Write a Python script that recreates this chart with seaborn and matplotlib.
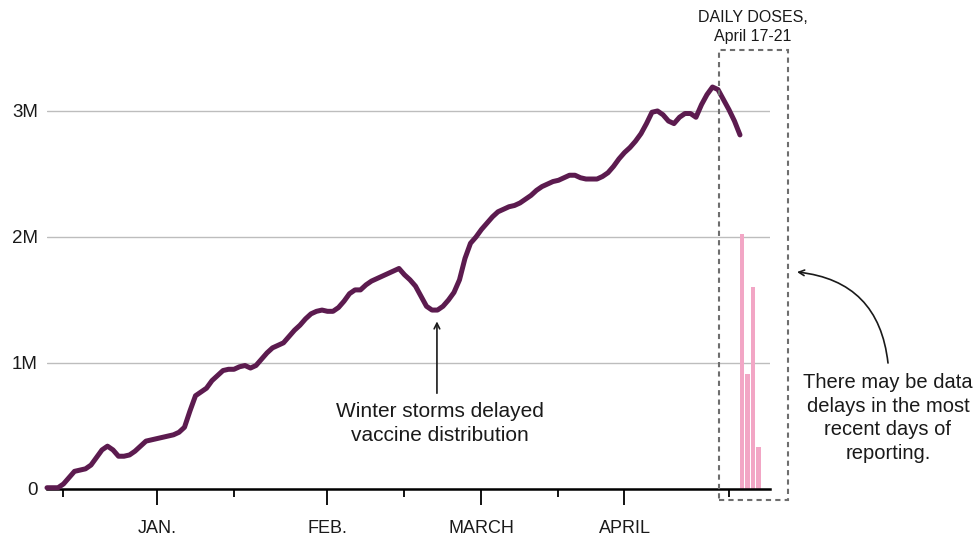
import numpy as np
import pandas as pd
import matplotlib
matplotlib.use("Agg")
import matplotlib.pyplot as plt
import matplotlib.dates as mdates
from matplotlib.patches import Rectangle
import seaborn as sns

# 7-day average of doses (millions), one value per day from Dec 12
START = "2020-12-12"
avg_doses_m = [
    0.01, 0.01, 0.01, 0.04, 0.09, 0.14, 0.15, 0.16, 0.19, 0.25,   # Dec 12-21
    0.31, 0.34, 0.31, 0.26, 0.26, 0.27, 0.30, 0.34, 0.38, 0.39,   # Dec 22-31
    0.40, 0.41, 0.42, 0.43, 0.45, 0.49, 0.62, 0.74, 0.77, 0.80,   # Jan 1-10
    0.86, 0.90, 0.94, 0.95, 0.95, 0.97, 0.98, 0.96, 0.98, 1.03,   # Jan 11-20
    1.08, 1.12, 1.14, 1.16, 1.21, 1.26, 1.30, 1.35, 1.39, 1.41,   # Jan 21-30
    1.42, 1.41, 1.41, 1.44, 1.49, 1.55, 1.58, 1.58, 1.62, 1.65,   # Jan 31-Feb 9
    1.67, 1.69, 1.71, 1.73, 1.75, 1.70, 1.66, 1.61, 1.53, 1.45,   # Feb 10-19
    1.42, 1.42, 1.45, 1.50, 1.56, 1.66, 1.83, 1.95, 2.00, 2.06,   # Feb 20-Mar 1
    2.11, 2.16, 2.20, 2.22, 2.24, 2.25, 2.27, 2.30, 2.33, 2.37,   # Mar 2-11
    2.40, 2.42, 2.44, 2.45, 2.47, 2.49, 2.49, 2.47, 2.46, 2.46,   # Mar 12-21
    2.46, 2.48, 2.51, 2.56, 2.62, 2.67, 2.71, 2.76, 2.82, 2.90,   # Mar 22-31
    2.99, 3.00, 2.97, 2.92, 2.90, 2.95, 2.98, 2.98, 2.95, 3.05,   # Apr 1-10
    3.13, 3.19, 3.17, 3.09, 3.01, 2.92, 2.81,                     # Apr 11-17
]

# daily doses (millions), April 17-21
bar_dates = ["2021-04-17", "2021-04-18", "2021-04-19", "2021-04-20", "2021-04-21"]
bar_doses_m = [2.02, 0.91, 1.60, 0.33, 0.0]

month_ticks = ["2021-01-01", "2021-02-01", "2021-03-01", "2021-03-27"]
month_labels = ["JAN.", "FEB.", "MARCH", "APRIL"]
minor_ticks = ["2020-12-15", "2021-01-15", "2021-02-15", "2021-03-15", "2021-04-15"]
y_ticks = [0, 1, 2, 3]
y_labels = ["0", "1M", "2M", "3M"]

LINE_C = "#5c1b4f"
BAR_C = "#f2a6c5"
TEXT_C = "#1a1a1a"

sns.set_style("white")
plt.rcParams["font.family"] = ["Liberation Sans", "DejaVu Sans"]

df = pd.DataFrame({
    "date": pd.date_range(START, periods=len(avg_doses_m), freq="D"),
    "doses": avg_doses_m,
})

fig = plt.figure(figsize=(9.75, 5.37), dpi=100)
ax = fig.add_axes([0.0482, 0.0894, 0.7415, 0.7978])

ax.bar(pd.to_datetime(bar_dates), bar_doses_m, width=0.8, align="edge",
       color=BAR_C, linewidth=0, edgecolor="none", zorder=2)
sns.lineplot(data=df, x="date", y="doses", ax=ax, color=LINE_C,
             linewidth=3.6, clip_on=False, zorder=4)

jan1 = pd.Timestamp("2021-01-01")
ax.set_xlim(pd.Timestamp(START), jan1 + pd.Timedelta(days=111.45))
ax.set_ylim(0, 3.4)

# axes styling
for s in ["top", "right", "left"]:
    ax.spines[s].set_visible(False)
ax.spines["bottom"].set_color("black")
ax.spines["bottom"].set_linewidth(1.8)
ax.spines["bottom"].set_zorder(3)
ax.set_axisbelow(True)
ax.yaxis.grid(True, color="#bdbdbd", linewidth=1.0)
ax.xaxis.grid(False)

ax.set_yticks(y_ticks)
ax.set_yticklabels(y_labels, fontsize=13.5, color=TEXT_C)
ax.tick_params(axis="y", length=0, pad=6.5)

ax.set_xticks(pd.to_datetime(month_ticks))
ax.set_xticklabels(month_labels, fontsize=13, color=TEXT_C)
ax.set_xticks(pd.to_datetime(minor_ticks), minor=True)
ax.tick_params(axis="x", which="major", length=11.5, width=1.3,
               color="black", pad=10.5, bottom=True)
ax.tick_params(axis="x", which="minor", length=6, width=1.3,
               color="black", bottom=True)
ax.set_xlabel("")
ax.set_ylabel("")

# dashed box around the daily-dose bars
box_left = mdates.date2num(jan1 + pd.Timedelta(days=102.2))
ax.add_patch(Rectangle((box_left, -0.087), 12.5, 3.571, fill=False,
                       edgecolor="#6e6e6e", linewidth=1.5,
                       linestyle=(0, (2.5, 2)), clip_on=False, zorder=5))
fig.text(753 / 975, 1 - 27 / 537, "DAILY DOSES,\nApril 17-21",
         ha="center", va="center", fontsize=11.5, color=TEXT_C,
         linespacing=1.35)

# winter storm annotation
storm_day = jan1 + pd.Timedelta(days=50.9)
ax.annotate("", xy=(storm_day, 1.33), xytext=(storm_day, 0.76),
            arrowprops=dict(arrowstyle="->", color=TEXT_C, lw=1.2,
                            shrinkA=0, shrinkB=0))
ax.text(jan1 + pd.Timedelta(days=51.5), 0.69,
        "Winter storms delayed\nvaccine distribution",
        ha="center", va="top", fontsize=15, color=TEXT_C, linespacing=1.3)

# data delay note
fig.text(888 / 975, 1 - 418 / 537,
         "There may be data\ndelays in the most\nrecent days of\nreporting.",
         ha="center", va="center", fontsize=14.5, color=TEXT_C,
         linespacing=1.32)
ax.annotate("", xy=(797, 537 - 272), xycoords="figure pixels",
            xytext=(888, 537 - 363), textcoords="figure pixels",
            arrowprops=dict(arrowstyle="->", color=TEXT_C, lw=1.2,
                            connectionstyle="arc3,rad=0.4",
                            shrinkA=0, shrinkB=0))

fig.savefig("out.png", dpi=100)
